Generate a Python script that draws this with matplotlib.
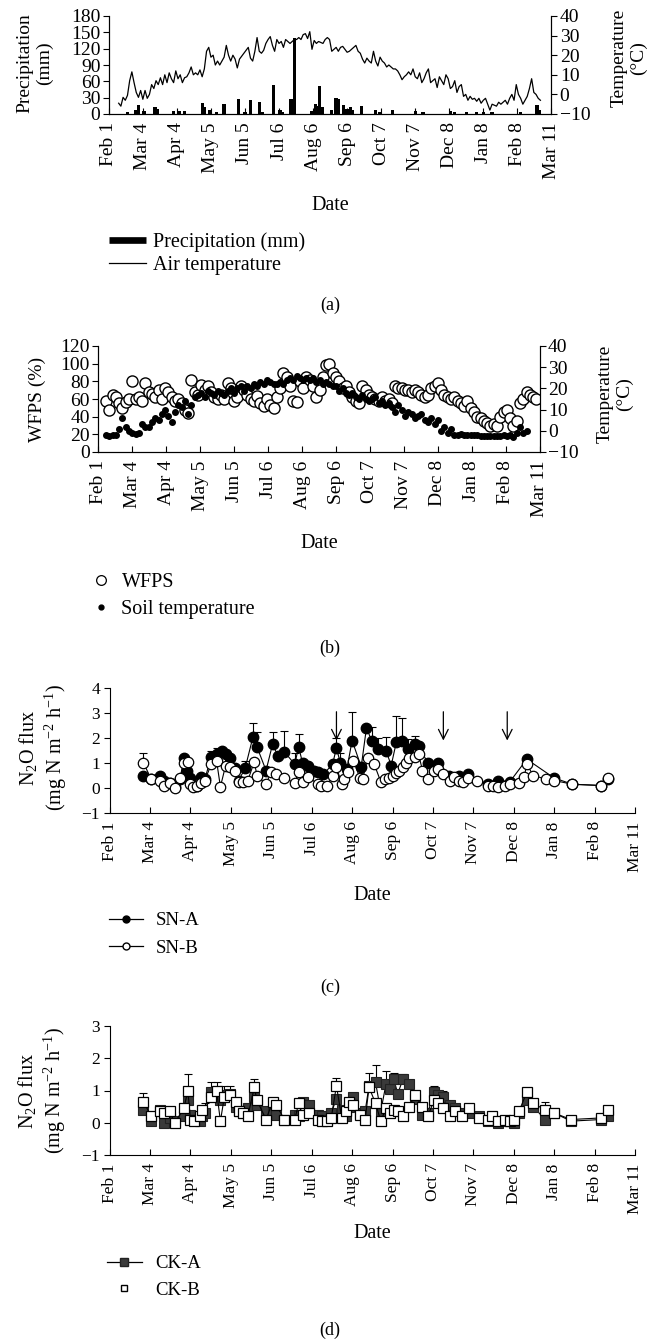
import numpy as np
import matplotlib
matplotlib.use('Agg')
import matplotlib.pyplot as plt
from matplotlib.lines import Line2D

plt.rcParams['font.family'] = ['Liberation Serif', 'DejaVu Serif']
plt.rcParams['mathtext.fontset'] = 'custom'
plt.rcParams['mathtext.rm'] = 'Liberation Serif'
plt.rcParams['mathtext.it'] = 'Liberation Serif:italic'
plt.rcParams['mathtext.default'] = 'regular'

# ---------------- data ----------------
month_labels = ['Feb 1', 'Mar 4', 'Apr 4', 'May 5', 'Jun 5', 'Jul 6', 'Aug 6',
                'Sep 6', 'Oct 7', 'Nov 7', 'Dec 8', 'Jan 8', 'Feb 8', 'Mar 11']
month_days = [0, 31, 62, 93, 124, 155, 186, 217, 248, 279, 310, 341, 372, 403]

# (a) precipitation (mm) and air temperature (C), day 0 = Feb 1
prec_day = [17, 24, 27, 32, 42, 44, 59, 64, 69, 85, 87, 92, 98, 105, 118, 124, 129,
            137, 140, 150, 156, 158, 166, 169, 185, 188, 190, 192, 194, 203, 207, 209,
            214, 217, 220, 222, 230, 243, 247, 258, 279, 286, 311, 315, 326, 335, 341,
            349, 375, 390, 392]
prec_mm = [3, 8, 16, 5, 12, 10, 5, 6, 5, 20, 12, 7, 4, 18, 28, 4, 26,
           22, 4, 54, 8, 4, 27, 140, 6, 18, 14, 51, 12, 8, 30, 28,
           16, 10, 13, 8, 14, 8, 4, 7, 5, 4, 6, 4, 3, 4, 4,
           4, 4, 16, 8]
air_start = 9
air_step = 2
air_temp = [-4.5, -6, -1.5, -3, -0.5, 7, 11.5, 6, 1, -1.5,
            2, -2.5, 2, -2, 0, 5, 3, 7, 5, 8.5,
            5, 10, 6, 11, 8, 6, 12, 8, 10, 6,
            8.5, 9, 11, 14, 10, 11, 10, 12.5, 9, 13,
            22, 24, 19, 20, 15, 17, 15, 17, 19, 25,
            20, 17, 20, 18, 13.5, 18, 19.5, 21, 22.5, 24,
            18.5, 17, 22, 29, 22, 21, 22.5,
            26, 28, 29.5, 25, 22, 28, 26, 27, 24, 28,
            27, 26, 27, 28, 28, 29, 28, 30.5, 31, 28.5,
            32, 23, 27.5, 26, 27, 26.5, 26, 28, 29, 28,
            22, 23, 24, 22, 24, 24.5, 23, 21.5, 22, 23,
            24, 25, 22, 21, 18, 16, 18.5, 17, 16, 22,
            17, 14.5, 19, 17, 16, 14, 15, 14, 13, 13,
            12, 10, 7.5, 9, 10, 11.5, 10, 13, 9, 8,
            11, 6, 8, 11, 13, 6, 7, 8, 3.5, 9,
            7, 5, 10,
            8, 3, 4, 7, 1, 4, 5, -1, 0, -3,
            -1, -2.5, -2, -3.5, -2, -4.5, -3, -2, -5, -8,
            -5, -5.5, -6, -4, -5, -4, -3, -5, -2, 0,
            -3, 5, 0, -2, -5, -3, -1, 3, 8, 1,
            0, -2, -3]

# (b) WFPS (%) and soil temperature (C)
wfps_start = 7
wfps_step = 3
wfps = [58, 48, 65, 62, 55, 50, 57, 60, 80, 60, 62, 58, 78, 68, 66, 62, 70, 60, 72, 68,
        62, 58, 60, 55, 48, 44, 81, 68, 65, 76, 70, 75, 68, 62, 60, 65, 60, 78, 72, 58,
        62, 75, 70, 65, 60, 58, 63, 55, 52, 60, 53, 50, 62, 72, 90, 85, 75, 58, 57, 80,
        72, 85, 82, 75, 62, 70, 85, 98, 100, 90, 85, 80, 72, 75, 68, 62, 58, 55, 75, 70,
        65, 62, 60, 58, 62, 58, 60, 55, 75, 73, 72, 70, 70, 68, 70, 68, 65, 62, 65, 72,
        75, 78, 70, 65, 62, 60, 62, 58, 55, 52, 58, 50, 45, 40, 38, 35, 33, 30, 32, 30,
        40, 45, 48, 38, 30, 35, 55, 60, 68, 65, 62, 60]
soil_start = 7
soil_step = 3
soil_temp = [-2, -2.5, -2, -2, 1, 6, 2, 0, -1, -1.5, -1, 3, 2, 2, 4, 6, 5, 8, 10, 7,
             4, 9, 12, 11, 14, 8, 12, 16, 17, 18, 16, 19, 18, 17, 19, 18, 17, 19, 20, 18,
             20, 21, 19, 21, 20, 22, 21, 23, 22, 24, 23, 22, 22, 23, 22, 24, 25, 24, 26, 25,
             24, 25, 24, 25, 23, 24, 22, 23, 22, 21, 21, 19, 20, 18, 17, 18, 16, 15, 17, 15,
             14, 15, 16, 13, 14, 12, 13, 11, 9, 12, 10, 7, 9, 8, 6, 7, 8, 5, 4, 6,
             3, 5, 0, 2, -1, 1, -2, -2, -1.5, -2, -2, -2, -2, -2, -2.5, -2.5, -2.5, -2.5, -2.5, -2.5,
             -2.5, -2, -2.5, -2, -3, -1, 2, -1, 0]

# (c) N2O flux, SN-A / SN-B
sna_day = [26, 32, 39, 42, 46, 50, 54, 57, 59, 62, 64, 67, 70, 73, 78, 82, 86, 89, 92, 96,
           99, 104, 110, 113, 120, 125, 129, 134, 142, 145, 148, 152, 157, 160, 164, 171, 174, 177, 182, 186,
           193, 197, 201, 206, 212, 216, 220, 224, 229, 234, 237, 244, 252, 260, 268, 275, 290, 298, 307, 320,
           341, 355, 377, 382]
sna = [0.5, 0.35, 0.5, 0.3, 0.2, 0.05, 0.35, 1.2, 0.7, 0.4, 0.1, 0.1, 0.45, 0.35, 1.25, 1.35, 1.5, 1.35, 1.2, 0.8,
       0.3, 0.8, 2.05, 1.65, 0.7, 1.75, 1.3, 1.45, 0.95, 1.65, 1.0, 0.9, 0.7, 0.65, 0.55, 0.95, 1.6, 1.0, 0.75, 1.9,
       0.85, 2.4, 1.9, 1.55, 1.5, 0.9, 1.85, 1.9, 1.55, 1.75, 1.7, 1.0, 1.0, 0.5, 0.5, 0.55, 0.15, 0.3, 0.25, 1.15,
       0.4, 0.15, 0.1, 0.35]
sna_err = [0, 0, 0, 0, 0, 0, 0, 0.1, 0, 0, 0, 0, 0, 0, 0.25, 0.25, 0, 0.15, 0, 0,
           0, 0.3, 0.55, 0.6, 0, 0.5, 0, 0.85, 0.45, 0.5, 0, 0, 0, 0, 0, 0, 0.4, 0.4, 0, 1.15,
           0, 0.1, 0.55, 0.45, 0.55, 0, 1.05, 0.9, 0.4, 0.35, 0, 0, 0, 0, 0, 0, 0, 0, 0, 0,
           0, 0, 0, 0]
snb_day = [26, 32, 39, 42, 46, 50, 54, 57, 60, 62, 64, 67, 70, 73, 78, 82, 85, 89, 92, 96,
           99, 102, 106, 111, 113, 120, 124, 128, 134, 142, 145, 148, 152, 160, 162, 167, 171, 174, 178, 180,
           183, 187, 192, 194, 198, 203, 208, 211, 214, 217, 220, 222, 225, 227, 230, 234, 237, 240, 244, 249,
           252, 256, 261, 264, 268, 271, 275, 282, 290, 294, 298, 303, 307, 314, 318, 320, 325, 335, 341, 355,
           377, 382]
snb = [1.0, 0.35, 0.3, 0.1, 0.2, 0.0, 0.4, 1.0, 1.05, 0.15, 0.05, 0.1, 0.2, 0.3, 0.95, 1.1, 0.05, 0.9, 0.85, 0.7,
       0.25, 0.25, 0.3, 1.05, 0.5, 0.15, 0.65, 0.55, 0.4, 0.2, 0.65, 0.25, 0.45, 0.15, 0.1, 0.1, 0.5, 0.85, 0.15, 0.35,
       0.65, 1.1, 0.4, 0.35, 1.2, 0.95, 0.25, 0.35, 0.4, 0.5, 0.6, 0.7, 0.85, 1.0, 1.2, 1.25, 1.35, 0.7, 0.35, 0.7,
       0.75, 0.55, 0.3, 0.45, 0.3, 0.25, 0.4, 0.3, 0.1, 0.1, 0.05, 0.1, 0.15, 0.2, 0.45, 0.95, 0.5, 0.35, 0.3, 0.15,
       0.1, 0.4]
snb_err = [0.4] + [0] * 81
arrow_days = [174, 256, 305]

# (d) N2O flux, CK-A / CK-B
cka_day = [26, 32, 39, 42, 46, 50, 57, 60, 62, 65, 69, 71, 73, 78, 82, 85, 88, 92, 97, 99,
           102, 106, 111, 113, 120, 125, 128, 134, 142, 145, 148, 153, 160, 163, 167, 170, 174, 178, 181, 184,
           187, 192, 196, 199, 204, 208, 212, 215, 218, 221, 225, 230, 234, 240, 244, 249, 252, 256, 261, 265,
           270, 276, 283, 290, 293, 298, 303, 307, 310, 314, 320, 325, 334, 341, 354, 377, 382]
cka = [0.4, 0.05, 0.4, 0.0, 0.15, 0.05, 0.2, 0.7, 0.25, 0.1, 0.05, 0.2, 0.3, 0.95, 0.95, 0.7, 0.85, 0.9, 0.5, 0.35,
       0.3, 0.45, 0.8, 0.55, 0.35, 0.3, 0.25, 0.1, 0.25, 0.2, 0.65, 0.55, 0.25, 0.2, 0.1, 0.3, 0.75, 0.4, 0.2, 0.5,
       0.8, 0.3, 0.35, 1.15, 1.25, 0.35, 1.2, 1.05, 1.35, 0.9, 1.35, 1.2, 0.75, 0.25, 0.3, 0.95, 0.85, 0.8, 0.55, 0.45,
       0.3, 0.3, 0.2, 0.05, 0.1, 0.0, 0.05, 0.05, 0.0, 0.3, 0.7, 0.5, 0.1, 0.3, 0.05, 0.1, 0.2]
cka_err = [0, 0, 0.1, 0, 0, 0, 0, 0, 0, 0, 0, 0, 0.3, 0.3, 0, 0, 0, 0.25, 0, 0,
           0, 0, 0, 0, 0, 0, 0, 0, 0, 0, 0, 0, 0, 0, 0, 0, 0, 0, 0, 0,
           0.1, 0, 0, 0, 0.55, 0, 0.4, 0, 0.2, 0, 0.15, 0, 0, 0, 0, 0.2, 0, 0.2, 0, 0,
           0, 0, 0, 0, 0, 0, 0, 0, 0, 0, 0, 0, 0, 0, 0, 0, 0]
ckb_day = [26, 32, 39, 42, 46, 50, 57, 60, 62, 65, 69, 71, 78, 82, 85, 88, 92, 97, 99, 102,
           106, 111, 113, 120, 125, 128, 134, 142, 145, 148, 153, 160, 163, 167, 170, 174, 178, 181, 184, 187,
           192, 196, 199, 204, 208, 212, 215, 218, 221, 225, 230, 234, 240, 244, 249, 252, 256, 261, 265, 270,
           276, 283, 290, 293, 298, 303, 307, 310, 314, 320, 325, 334, 341, 354, 377, 382]
ckb = [0.65, 0.2, 0.35, 0.3, 0.35, 0.0, 0.45, 1.0, 0.1, 0.05, 0.2, 0.4, 0.8, 1.0, 0.05, 0.8, 0.85, 0.65, 0.35, 0.3,
       0.2, 1.1, 0.7, 0.1, 0.65, 0.55, 0.1, 0.1, 0.6, 0.25, 0.3, 0.1, 0.05, 0.05, 0.15, 1.15, 0.15, 0.35, 0.65, 0.55,
       0.25, 0.1, 1.1, 0.6, 0.05, 0.45, 0.3, 0.4, 0.35, 0.2, 0.5, 0.85, 0.5, 0.2, 0.7, 0.6, 0.45, 0.2, 0.35, 0.2,
       0.45, 0.15, 0.1, 0.2, 0.05, 0.1, 0.05, 0.1, 0.35, 0.95, 0.6, 0.4, 0.3, 0.1, 0.15, 0.4]
ckb_err = [0.27, 0, 0, 0, 0, 0, 0, 0.5, 0, 0, 0, 0, 0, 0.25, 0, 0.35, 0, 0, 0, 0,
           0, 0.27, 0, 0, 0.08, 0, 0, 0, 0, 0, 0, 0, 0, 0, 0, 0.25, 0, 0, 0, 0,
           0, 0, 0.45, 0, 0, 0, 0, 0, 0, 0, 0, 0, 0, 0, 0, 0, 0, 0, 0, 0,
           0, 0, 0, 0, 0, 0, 0, 0, 0, 0, 0, 0.25, 0, 0, 0, 0]

# ---------------- layout helpers ----------------
W, H = 651, 1341
fig = plt.figure(figsize=(W / 100, H / 100), dpi=100)


def add_ax(l, t, r, b):
    return fig.add_axes([l / W, 1 - b / H, (r - l) / W, (b - t) / H])


def fx(x):
    return x / W


def fy(y):
    return 1 - y / H


def style_x(ax, size):
    ax.set_xlim(month_days[0], month_days[-1])
    ax.set_xticks(month_days)
    ax.set_xticklabels(month_labels, rotation=90, ha='center', va='top')
    ax.tick_params(axis='x', direction='in', length=4, width=0.8, pad=6, labelsize=size)


def upper_err(ax, days, vals, errs):
    d = np.asarray(days, float)
    v = np.asarray(vals, float)
    e = np.asarray(errs, float)
    m = e > 0
    ax.errorbar(d[m], v[m], yerr=[np.zeros(m.sum()), e[m]], fmt='none', ecolor='k',
                elinewidth=0.8, capsize=3, capthick=0.8, zorder=2)


big = 14
# ---------------- (a) ----------------
ax = add_ax(108.8, 16, 551.4, 114)
ax.bar(prec_day, prec_mm, width=3.0, color='black', zorder=2)
ax.set_ylim(0, 180)
ax.set_yticks(range(0, 181, 30))
style_x(ax, big)
ax.tick_params(axis='y', direction='out', length=4, width=0.8, pad=2, labelsize=big)
ax2 = ax.twinx()
air_day = air_start + air_step * np.arange(len(air_temp))
ax2.plot(air_day, air_temp, color='black', lw=0.9)
ax2.set_ylim(-10, 40)
ax2.set_yticks(range(-10, 41, 10))
ax2.tick_params(axis='y', direction='out', length=4, width=0.8, pad=2, labelsize=big)
for a in (ax, ax2):
    a.spines['top'].set_visible(False)
    for s in a.spines.values():
        s.set_linewidth(0.8)
fig.text(fx(35), fy(63), 'Precipitation\n(mm)', rotation=90, ha='center', va='center',
         multialignment='center', size=big)
fig.text(fx(629), fy(58), 'Temperature\n(°C)', rotation=90, ha='center', va='center',
         multialignment='center', size=big)
fig.text(fx(330), fy(205), 'Date', ha='center', va='center', size=14.5)
hA = [Line2D([], [], color='k', lw=4.8, solid_capstyle='butt'),
      Line2D([], [], color='k', lw=0.9)]
fig.legend(hA, ['Precipitation (mm)', 'Air temperature'], loc='upper left',
           bbox_to_anchor=(fx(108.8), fy(232)), frameon=False, borderpad=0, borderaxespad=0,
           handlelength=1.85, handletextpad=0.35, labelspacing=0.22, fontsize=14.5)
fig.text(fx(330), fy(305), '(a)', ha='center', va='center', size=13)

# ---------------- (b) ----------------
ax = add_ax(98.4, 346, 539.7, 452)
wfps_day = wfps_start + wfps_step * np.arange(len(wfps))
ax.plot(wfps_day, wfps, 'o', ls='none', mfc='white', mec='black', ms=8, mew=1.0)
ax.set_ylim(0, 120)
ax.set_yticks(range(0, 121, 20))
style_x(ax, big)
ax.tick_params(axis='y', direction='out', length=4, width=0.8, pad=2, labelsize=big)
ax2 = ax.twinx()
soil_day = soil_start + soil_step * np.arange(len(soil_temp))
ax2.plot(soil_day, soil_temp, 'o', ls='none', color='black', ms=4)
ax2.set_ylim(-10, 40)
ax2.set_yticks(range(-10, 41, 10))
ax2.tick_params(axis='y', direction='out', length=4, width=0.8, pad=2, labelsize=big)
for a in (ax, ax2):
    a.spines['top'].set_visible(False)
    for s in a.spines.values():
        s.set_linewidth(0.8)
fig.text(fx(37), fy(399), 'WFPS (%)', rotation=90, ha='center', va='center', size=big)
fig.text(fx(615), fy(394), 'Temperature\n(°C)', rotation=90, ha='center', va='center',
         multialignment='center', size=big)
fig.text(fx(319), fy(543), 'Date', ha='center', va='center', size=14.5)
hB = [Line2D([], [], marker='o', ls='none', mfc='white', mec='k', ms=7, mew=0.9),
      Line2D([], [], marker='o', ls='none', color='k', ms=3.5)]
fig.legend(hB, ['WFPS', 'Soil temperature'], loc='upper left',
           bbox_to_anchor=(fx(94.7), fy(573)), frameon=False, borderpad=0, borderaxespad=0,
           handlelength=0.6, handletextpad=0.73, labelspacing=0.38, fontsize=14.5)
fig.text(fx(330), fy(648), '(b)', ha='center', va='center', size=13)

small = 12.5
flux_label = 'N$_2$O flux\n(mg N m$^{-2}$ h$^{-1}$)'
# ---------------- (c) ----------------
ax = add_ax(109.6, 688, 635, 813)
upper_err(ax, sna_day, sna, sna_err)
ax.plot(sna_day, sna, '-o', color='k', lw=0.8, ms=7.5, mfc='k', mec='k', zorder=3)
upper_err(ax, snb_day, snb, snb_err)
ax.plot(snb_day, snb, '-o', color='k', lw=0.8, ms=7.5, mfc='white', mec='k', mew=0.9, zorder=4)
for d in arrow_days:
    ax.annotate('', xy=(d, 1.9), xytext=(d, 3.05),
                arrowprops=dict(arrowstyle='->,head_length=0.7,head_width=0.35', lw=0.9,
                                color='k', shrinkA=0, shrinkB=0), zorder=5)
ax.set_ylim(-1, 4)
ax.set_yticks(range(-1, 5))
style_x(ax, small)
ax.tick_params(axis='y', direction='out', length=4, width=0.8, pad=3, labelsize=small)
ax.spines['top'].set_visible(False)
ax.spines['right'].set_visible(False)
fig.text(fx(43), fy(748), flux_label, rotation=90, ha='center', va='center',
         multialignment='center', size=14.5)
fig.text(fx(372), fy(895), 'Date', ha='center', va='center', size=14.5)
hC = [Line2D([], [], color='k', lw=0.9, marker='o', ms=5, mfc='k', mec='k'),
      Line2D([], [], color='k', lw=0.9, marker='o', ms=5, mfc='white', mec='k')]
fig.legend(hC, ['SN-A', 'SN-B'], loc='upper left',
           bbox_to_anchor=(fx(108.8), fy(912)), frameon=False, borderpad=0, borderaxespad=0,
           handlelength=1.83, handletextpad=0.67, labelspacing=0.55, fontsize=13.5)
fig.text(fx(330), fy(987), '(c)', ha='center', va='center', size=13)

# ---------------- (d) ----------------
ax = add_ax(109.6, 1026, 635, 1155)
dark = '#3a3a3a'
upper_err(ax, cka_day, cka, cka_err)
ax.plot(cka_day, cka, '-s', color='k', lw=0.8, ms=7, mfc=dark, mec='#222222', mew=0.8, zorder=3)
upper_err(ax, ckb_day, ckb, ckb_err)
ax.plot(ckb_day, ckb, '-s', color='k', lw=0.8, ms=7, mfc='white', mec='k', mew=0.9, zorder=4)
ax.set_ylim(-1, 3)
ax.set_yticks(range(-1, 4))
style_x(ax, small)
ax.tick_params(axis='y', direction='out', length=4, width=0.8, pad=3, labelsize=small)
ax.spines['top'].set_visible(False)
ax.spines['right'].set_visible(False)
fig.text(fx(42), fy(1091), flux_label, rotation=90, ha='center', va='center',
         multialignment='center', size=14.5)
fig.text(fx(372), fy(1233), 'Date', ha='center', va='center', size=14.5)
hD = [Line2D([], [], color='k', lw=0.9, marker='s', ms=5.5, mfc=dark, mec='#222222'),
      Line2D([], [], ls='none', marker='s', ms=5, mfc='white', mec='k')]
fig.legend(hD, ['CK-A', 'CK-B'], loc='upper left',
           bbox_to_anchor=(fx(107), fy(1255)), frameon=False, borderpad=0, borderaxespad=0,
           handlelength=1.85, handletextpad=0.75, labelspacing=0.5, fontsize=13.5)
fig.text(fx(330), fy(1330), '(d)', ha='center', va='center', size=13)

fig.savefig('out.png', dpi=100)
